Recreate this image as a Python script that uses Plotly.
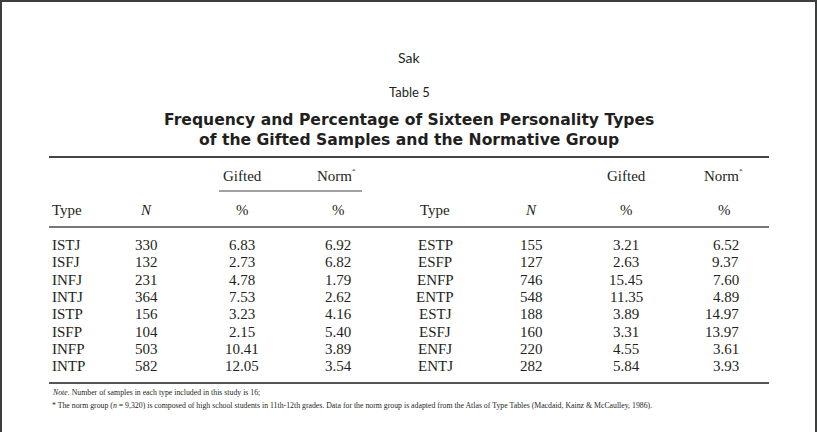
import plotly.graph_objects as go

# ---- data ----
types_left = ["ISTJ", "ISFJ", "INFJ", "INTJ", "ISTP", "ISFP", "INFP", "INTP"]
n_left = [330, 132, 231, 364, 156, 104, 503, 582]
gifted_left = [6.83, 2.73, 4.78, 7.53, 3.23, 2.15, 10.41, 12.05]
norm_left = [6.92, 6.82, 1.79, 2.62, 4.16, 5.40, 3.89, 3.54]

types_right = ["ESTP", "ESFP", "ENFP", "ENTP", "ESTJ", "ESFJ", "ENFJ", "ENTJ"]
n_right = [155, 127, 746, 548, 188, 160, 220, 282]
gifted_right = [3.21, 2.63, 15.45, 11.35, 3.89, 3.31, 4.55, 5.84]
norm_right = [6.52, 9.37, 7.60, 4.89, 14.97, 13.97, 3.61, 3.93]

header_top = ["Gifted", "Norm", "*"]
header_main = ["Type", "N", "%", "%"]

running_head = "Sak"
table_label = "Table 5"
title_lines = ["Frequency and Percentage of Sixteen Personality Types",
               "of the Gifted Samples and the Normative Group"]
note_lines = [
    "<i>Note.</i> Number of samples in each type included in this study is 16;",
    "* The norm group (<i>n</i> = 9,320) is composed of high school students in 11th-12th grades. "
    "Data for the norm group is adapted from the Atlas of Type Tables (Macdaid, Kainz &amp; McCaulley, 1986).",
]

# ---- layout constants ----
W, H = 818, 432
TXT = "#231f20"
SERIF = "Liberation Serif"
SANS = "Lato"
TITLEFONT = "DejaVu Sans"
ROW0, ROWSTEP = 245, 17.3
BODY = 15

fig = go.Figure()
fig.add_trace(go.Scatter(x=[0, W], y=[0, H], mode="markers",
                         marker=dict(opacity=0), hoverinfo="skip", showlegend=False))

ann = []


def text(x, y, s, size, family, xanchor="center", color=TXT, style="normal"):
    ann.append(dict(x=x, y=y, xref="x", yref="y", text=s, showarrow=False,
                    xanchor=xanchor, yanchor="middle",
                    font=dict(size=size, family=family, color=color, style=style)))


# heads
text(409, 57, running_head, 14, SANS)
text(409, 92, table_label, 13, SANS)
for i, ln in enumerate(title_lines):
    text(409, 120 + i * 20, "<b>" + ln + "</b>", 15.6, TITLEFONT)

# column header rows
text(242, 176, header_top[0], BODY, SERIF)
text(334, 176, header_top[1], BODY, SERIF)
text(354, 171, header_top[2], 7, SERIF)
text(626, 176, header_top[0], BODY, SERIF)
text(721, 176, header_top[1], BODY, SERIF)
text(741, 171, header_top[2], 7, SERIF)

text(50, 210, header_main[0], BODY, SERIF, "left")
text(146, 210, header_main[1], BODY, SERIF, style="italic")
text(242, 210, header_main[2], BODY, SERIF)
text(338, 210, header_main[3], BODY, SERIF)
text(435, 210, header_main[0], BODY, SERIF)
text(531, 210, header_main[1], BODY, SERIF, style="italic")
text(626, 210, header_main[2], BODY, SERIF)
text(724, 210, header_main[3], BODY, SERIF)

# body
for i in range(len(types_left)):
    y = ROW0 + i * ROWSTEP
    text(50, y, types_left[i], BODY, SERIF, "left")
    text(146.5, y, str(n_left[i]), BODY, SERIF)
    text(241.5, y, f"{gifted_left[i]:.2f}", BODY, SERIF)
    text(338, y, f"{norm_left[i]:.2f}", BODY, SERIF)
    text(435, y, types_right[i], BODY, SERIF)
    text(531, y, str(n_right[i]), BODY, SERIF)
    text(626, y, f"{gifted_right[i]:.2f}", BODY, SERIF)
    text(741, y, f"{norm_right[i]:.2f}", BODY, SERIF, "right")

# note
for i, ln in enumerate(note_lines):
    text(50, 392 + i * 13, ln, 7.8, SERIF, "left")

# ---- rules and frame ----
shapes = []


def hline(x0, x1, y, w, c):
    shapes.append(dict(type="line", xref="x", yref="y", x0=x0, x1=x1, y0=y, y1=y,
                       line=dict(color=c, width=w)))


hline(49, 769, 157, 2, "#444444")
hline(219, 362, 191, 1.2, "#444444")
hline(49, 769, 227, 2, "#777777")
hline(49, 769, 383, 2, "#555555")

frame = "#3c3f42"
shapes.append(dict(type="line", xref="x", yref="y", x0=1, x1=1, y0=0, y1=H,
                   line=dict(color=frame, width=2)))
shapes.append(dict(type="line", xref="x", yref="y", x0=0, x1=817, y0=1, y1=1,
                   line=dict(color=frame, width=2)))
shapes.append(dict(type="line", xref="x", yref="y", x0=816, x1=816, y0=0, y1=H,
                   line=dict(color=frame, width=2)))

fig.update_layout(
    width=W, height=H,
    margin=dict(l=0, r=0, t=0, b=0),
    paper_bgcolor="white", plot_bgcolor="white",
    xaxis=dict(range=[0, W], visible=False, fixedrange=True),
    yaxis=dict(range=[H, 0], visible=False, fixedrange=True),
    annotations=ann, shapes=shapes, showlegend=False,
)

fig.write_html("out.html", config={"displayModeBar": False},
               post_script="document.body.style.margin='0';document.body.style.overflow='hidden';")
